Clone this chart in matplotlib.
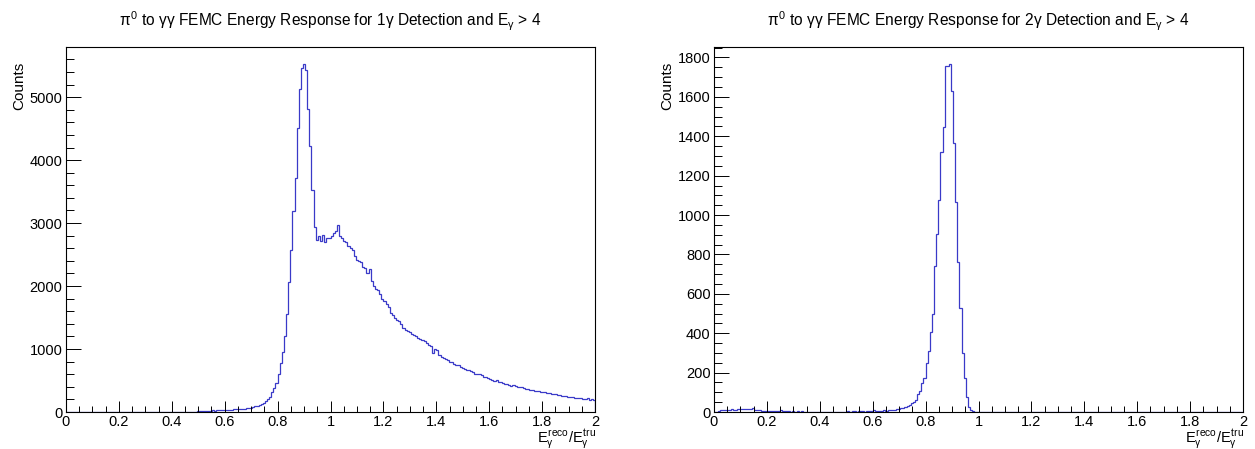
import numpy as np
import matplotlib.pyplot as plt
from matplotlib.ticker import MultipleLocator, FuncFormatter

plt.rcParams['font.family'] = ['Liberation Sans', 'DejaVu Sans']
plt.rcParams['mathtext.fontset'] = 'custom'
plt.rcParams['mathtext.rm'] = 'Liberation Sans'
plt.rcParams['mathtext.it'] = 'Liberation Sans'
plt.rcParams['mathtext.bf'] = 'Liberation Sans:bold'

# 250 bins of width 0.008 between 0 and 2
x_min, x_max, n_bins = 0.0, 2.0, 250

# 1 gamma detection: bins 0.000 .. 0.488 are empty, data from 0.496
counts_1g = [0] * 62 + [
    8, 10, 14, 12, 20, 15, 22, 25, 20, 28,
    26, 30, 28, 32, 35, 34, 38, 40, 42, 45,
    48, 50, 55, 58, 62, 68, 78, 88, 100, 115,
    130, 150, 172, 214, 245, 320, 375, 455, 600, 775,
    960, 1200, 1560, 2060, 2580, 3185, 3720, 4505, 5125, 5460,
    5520, 5430, 4810, 4230, 3530, 2940, 2730, 2790, 2720, 2810,
    2700, 2770, 2760, 2790, 2840, 2880, 2965, 2800, 2760, 2720,
    2700, 2640, 2600, 2570, 2480, 2410, 2390, 2380, 2300, 2280,
    2200, 2275, 2080, 2000, 1960, 1930, 1880, 1800, 1765, 1710,
    1660, 1580, 1540, 1500, 1460, 1440, 1390, 1340, 1310, 1285,
    1270, 1240, 1225, 1200, 1180, 1160, 1140, 1120, 1100, 1070,
    1050, 940, 1000, 985, 900, 880, 860, 840, 830, 800,
    790, 770, 750, 740, 720, 700, 690, 670, 660, 645,
    630, 610, 600, 610, 580, 560, 550, 540, 520, 515,
    500, 505, 480, 470, 465, 450, 445, 430, 420, 425,
    405, 400, 390, 395, 375, 370, 360, 355, 350, 340,
    335, 330, 320, 315, 310, 300, 305, 290, 285, 280,
    270, 275, 260, 255, 250, 245, 240, 235, 230, 225,
    230, 215, 210, 205, 215, 190, 200, 195,
]

# 2 gamma detection: data from 0.016
counts_2g = [0, 0] + [
    4, 8, 10, 9, 12, 11, 13, 10, 12, 14,
    13, 15, 16, 14, 17, 15, 18, 12, 10, 8,
    7, 6, 5, 6, 5, 4, 5, 3, 6, 8,
    4, 3, 4, 3, 2, 3, 2, 4, 2, 3,
    2, 1, 2, 1, 2, 1, 0, 0, 0, 0,
    0, 0, 0, 0, 0, 0, 0, 0, 0, 0,
    2, 3, 2, 4, 3, 2, 3, 4, 3, 2,
    4, 3, 5, 12, 6, 5, 7, 6, 8, 7,
    8, 10, 10, 12, 13, 15, 18, 19, 25, 30,
    38, 44, 50, 61, 91, 108, 145, 171, 247, 311,
    407, 497, 740, 906, 1075, 1320, 1447, 1755, 1758, 1765,
    1629, 1367, 1066, 762, 526, 301, 171, 78, 27, 10,
    3,
] + [0] * 127

titles = [r'$\pi^{0}$ to $\gamma\gamma$ FEMC Energy Response for 1$\gamma$ Detection and E$_{\gamma}$ > 4',
          r'$\pi^{0}$ to $\gamma\gamma$ FEMC Energy Response for 2$\gamma$ Detection and E$_{\gamma}$ > 4']
x_title = r'$E_{\gamma}^{reco}/E_{\gamma}^{tru}$'
y_title = 'Counts'

edges = np.linspace(x_min, x_max, n_bins + 1)

fig = plt.figure(figsize=(12.55, 4.49), dpi=100)
ax1 = fig.add_axes([66 / 1255, 37 / 449, 529 / 1255, 365 / 449])
ax2 = fig.add_axes([714 / 1255, 37 / 449, 529 / 1255, 365 / 449])

fmt = FuncFormatter(lambda v, p: '%g' % v)

for ax, counts, title, ystep, yminor in [(ax1, counts_1g, titles[0], 1000, 200),
                                         (ax2, counts_2g, titles[1], 200, 50)]:
    ax.stairs(counts, edges, color='#3a3ac8', lw=0.9, zorder=1)
    ax.set_xlim(x_min, x_max)
    ax.set_ylim(0, max(counts) * 1.05)

    ax.xaxis.set_major_locator(MultipleLocator(0.2))
    ax.xaxis.set_minor_locator(MultipleLocator(0.05))
    ax.yaxis.set_major_locator(MultipleLocator(ystep))
    ax.yaxis.set_minor_locator(MultipleLocator(yminor))
    ax.xaxis.set_major_formatter(fmt)

    ax.tick_params(axis='both', which='both', direction='in', top=False, right=False,
                   width=0.7, labelsize=10.5, pad=2.5)
    ax.tick_params(axis='x', which='major', length=8)
    ax.tick_params(axis='x', which='minor', length=4)
    ax.tick_params(axis='y', which='major', length=11)
    ax.tick_params(axis='y', which='minor', length=5.5)
    for s in ax.spines.values():
        s.set_linewidth(0.8)

    ax.text(0.5, 1.071, title, transform=ax.transAxes, ha='center', va='center', fontsize=11.2)
    ax.text(1.002, -0.043, x_title, transform=ax.transAxes, ha='right', va='top', fontsize=10.5)
    ax.text(-0.088, 0.893, y_title, transform=ax.transAxes, rotation=90,
            ha='center', va='center', fontsize=11)

fig.savefig('out.png', dpi=100, facecolor='white')
